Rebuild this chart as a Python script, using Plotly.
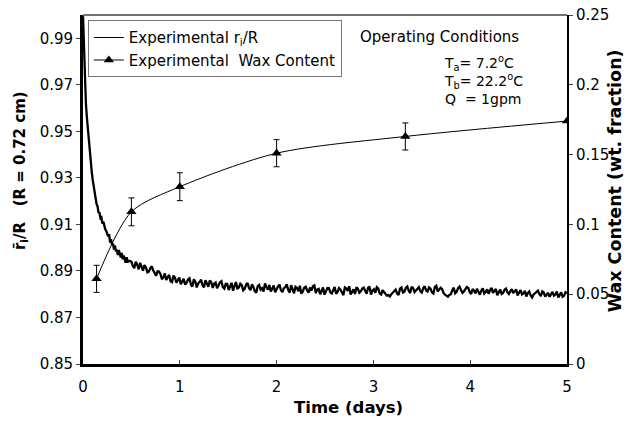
import plotly.graph_objects as go

# r_i/R experimental trace
t_early = [0.0, 0.005, 0.01, 0.015, 0.02, 0.03, 0.04, 0.05, 0.06, 0.07, 0.08, 0.09,
           0.10, 0.11, 0.12, 0.13, 0.14, 0.15, 0.16, 0.17, 0.18, 0.19, 0.20, 0.21,
           0.22, 0.23, 0.24, 0.25, 0.26, 0.27, 0.28, 0.29, 0.30, 0.31, 0.32, 0.33,
           0.34, 0.35, 0.36, 0.37, 0.38, 0.39, 0.40, 0.41, 0.42, 0.43, 0.44, 0.45,
           0.46, 0.47]
r_early = [0.9995, 0.9930, 0.9850, 0.9770, 0.9700, 0.9620, 0.9560, 0.9505, 0.9455, 0.9410,
           0.9365, 0.9328, 0.9292, 0.9262, 0.9233, 0.9212, 0.9188, 0.9178, 0.9152, 0.9150,
           0.9128, 0.9131, 0.9103, 0.9112, 0.9090, 0.9079, 0.9072, 0.9061, 0.9049, 0.9058,
           0.9022, 0.9036, 0.9013, 0.9017, 0.8992, 0.9010, 0.8984, 0.8991, 0.8968, 0.8990,
           0.8972, 0.8958, 0.8977, 0.8950, 0.8966, 0.8948, 0.8935, 0.8959, 0.8936, 0.8944]

t_late = [0.50, 0.53, 0.56, 0.59, 0.62, 0.65, 0.68, 0.71, 0.74, 0.77,
          0.80, 0.83, 0.86, 0.89, 0.92, 0.95, 0.98, 1.01, 1.04, 1.07,
          1.10, 1.13, 1.16, 1.19, 1.22, 1.25, 1.28, 1.31, 1.34, 1.37,
          1.40, 1.43, 1.46, 1.49, 1.52, 1.55, 1.58, 1.61, 1.64, 1.67,
          1.70, 1.73, 1.76, 1.79, 1.82, 1.85, 1.88, 1.91, 1.94, 1.97,
          2.00, 2.03, 2.06, 2.09, 2.12, 2.15, 2.18, 2.21, 2.24, 2.27,
          2.30, 2.33, 2.36, 2.39, 2.42, 2.45, 2.48, 2.51, 2.54, 2.57,
          2.60, 2.63, 2.66, 2.69, 2.72, 2.75, 2.78, 2.81, 2.84, 2.87,
          2.90, 2.93, 2.96, 2.99, 3.02, 3.05, 3.08, 3.11, 3.14, 3.17,
          3.20, 3.23, 3.26, 3.29, 3.32, 3.35, 3.38, 3.41, 3.44, 3.47,
          3.50, 3.53, 3.56, 3.59, 3.62, 3.65, 3.68, 3.71, 3.74, 3.77,
          3.80, 3.83, 3.86, 3.89, 3.92, 3.95, 3.98, 4.01, 4.04, 4.07,
          4.10, 4.13, 4.16, 4.19, 4.22, 4.25, 4.28, 4.31, 4.34, 4.37,
          4.40, 4.43, 4.46, 4.49, 4.52, 4.55, 4.58, 4.61, 4.64, 4.67,
          4.70, 4.73, 4.76, 4.79, 4.82, 4.85, 4.88, 4.91, 4.94, 4.97,
          5.00]
r_late = [0.8940, 0.8912, 0.8928, 0.8935, 0.8901, 0.8916, 0.8897, 0.8920, 0.8889, 0.8898,
          0.8887, 0.8872, 0.8861, 0.8883, 0.8852, 0.8871, 0.8864, 0.8843, 0.8866, 0.8849,
          0.8868, 0.8833, 0.8855, 0.8846, 0.8862, 0.8830, 0.8841, 0.8859, 0.8827, 0.8850,
          0.8837, 0.8856, 0.8824, 0.8844, 0.8833, 0.8815, 0.8852, 0.8829, 0.8839, 0.8823,
          0.8848, 0.8817, 0.8831, 0.8806, 0.8840, 0.8826, 0.8846, 0.8819, 0.8812, 0.8837,
          0.8822, 0.8841, 0.8809, 0.8830, 0.8818, 0.8839, 0.8804, 0.8827, 0.8836, 0.8811,
          0.8832, 0.8806, 0.8815, 0.8838, 0.8820, 0.8800, 0.8829, 0.8812, 0.8826, 0.8803,
          0.8831, 0.8810, 0.8819, 0.8796, 0.8825, 0.8834, 0.8808, 0.8801, 0.8823, 0.8812,
          0.8828, 0.8802, 0.8833, 0.8815, 0.8806, 0.8824, 0.8799, 0.8810, 0.8794, 0.8790,
          0.8808, 0.8820, 0.8797, 0.8829, 0.8811, 0.8833, 0.8805, 0.8826, 0.8817, 0.8830,
          0.8807, 0.8834, 0.8812, 0.8824, 0.8803, 0.8836, 0.8818, 0.8822, 0.8798, 0.8789,
          0.8800, 0.8828, 0.8810, 0.8833, 0.8806, 0.8820, 0.8827, 0.8801, 0.8815, 0.8823,
          0.8798, 0.8825, 0.8809, 0.8802, 0.8827, 0.8813, 0.8796, 0.8820, 0.8805, 0.8824,
          0.8801, 0.8822, 0.8811, 0.8795, 0.8818, 0.8803, 0.8790, 0.8812, 0.8786, 0.8804,
          0.8815, 0.8792, 0.8807, 0.8797, 0.8789, 0.8810, 0.8799, 0.8786, 0.8808, 0.8793,
          0.8805]

# additional readings between the samples above
t_mid = [0.515, 0.545, 0.575, 0.605, 0.635, 0.665, 0.695, 0.725, 0.755, 0.785,
         0.815, 0.845, 0.875, 0.905, 0.935, 0.965, 0.995, 1.025, 1.055, 1.085,
         1.115, 1.145, 1.175, 1.205, 1.235, 1.265, 1.295, 1.325, 1.355, 1.385,
         1.415, 1.445, 1.475, 1.505, 1.535, 1.565, 1.595, 1.625, 1.655, 1.685,
         1.715, 1.745, 1.775, 1.805, 1.835, 1.865, 1.895, 1.925, 1.955, 1.985,
         2.015, 2.045, 2.075, 2.105, 2.135, 2.165, 2.195, 2.225, 2.255, 2.285,
         2.315, 2.345, 2.375, 2.405, 2.435, 2.465, 2.495, 2.525, 2.555, 2.585,
         2.615, 2.645, 2.675, 2.705, 2.735, 2.765, 2.795, 2.825, 2.855, 2.885,
         2.915, 2.945, 2.975, 3.005, 3.035, 3.065, 3.095, 3.125, 3.155, 3.185,
         3.215, 3.245, 3.275, 3.305, 3.335, 3.365, 3.395, 3.425, 3.455, 3.485,
         3.515, 3.545, 3.575, 3.605, 3.635, 3.665, 3.695, 3.725, 3.755, 3.785,
         3.815, 3.845, 3.875, 3.905, 3.935, 3.965, 3.995, 4.025, 4.055, 4.085,
         4.115, 4.145, 4.175, 4.205, 4.235, 4.265, 4.295, 4.325, 4.355, 4.385,
         4.415, 4.445, 4.475, 4.505, 4.535, 4.565, 4.595, 4.625, 4.655, 4.685,
         4.715, 4.745, 4.775, 4.805, 4.835, 4.865, 4.895, 4.925, 4.955, 4.985]
r_mid = [0.8921, 0.8939, 0.8907, 0.8918, 0.8925, 0.8894, 0.8911, 0.8903, 0.8879, 0.8897,
         0.8864, 0.8889, 0.8876, 0.8856, 0.8880, 0.8849, 0.8872, 0.8858, 0.8841, 0.8863,
         0.8842, 0.8864, 0.8829, 0.8853, 0.8838, 0.8860, 0.8832, 0.8851, 0.8845, 0.8826,
         0.8851, 0.8830, 0.8845, 0.8818, 0.8849, 0.8837, 0.8825, 0.8845, 0.8817, 0.8841,
         0.8827, 0.8842, 0.8813, 0.8835, 0.8820, 0.8811, 0.8831, 0.8840, 0.8824, 0.8808,
         0.8834, 0.8817, 0.8826, 0.8843, 0.8807, 0.8823, 0.8832, 0.8813, 0.8803, 0.8828,
         0.8817, 0.8829, 0.8834, 0.8805, 0.8823, 0.8815, 0.8798, 0.8827, 0.8808, 0.8822,
         0.8802, 0.8826, 0.8807, 0.8829, 0.8814, 0.8799, 0.8821, 0.8830, 0.8806, 0.8824,
         0.8813, 0.8827, 0.8798, 0.8821, 0.8830, 0.8803, 0.8817, 0.8805, 0.8796, 0.8800,
         0.8814, 0.8803, 0.8824, 0.8807, 0.8827, 0.8815, 0.8832, 0.8809, 0.8823, 0.8812,
         0.8826, 0.8816, 0.8829, 0.8808, 0.8831, 0.8812, 0.8828, 0.8805, 0.8793, 0.8797,
         0.8817, 0.8804, 0.8826, 0.8818, 0.8812, 0.8831, 0.8809, 0.8822, 0.8804, 0.8810,
         0.8816, 0.8803, 0.8821, 0.8817, 0.8806, 0.8822, 0.8809, 0.8801, 0.8819, 0.8808,
         0.8813, 0.8805, 0.8820, 0.8809, 0.8799, 0.8815, 0.8805, 0.8795, 0.8799, 0.8811,
         0.8800, 0.8812, 0.8790, 0.8806, 0.8801, 0.8794, 0.8811, 0.8797, 0.8789, 0.8809]

# Wax content (right axis)
wax_t = [0.14, 0.5, 1.0, 2.0, 3.33, 5.0]
wax_val = [0.061, 0.109, 0.127, 0.151, 0.163, 0.174]
wax_err = [0.0097, 0.0100, 0.0100, 0.0097, 0.0097, 0.0]

left_ticks = [0.85, 0.87, 0.89, 0.91, 0.93, 0.95, 0.97, 0.99]
right_ticks = [0, 0.05, 0.1, 0.15, 0.2, 0.25]
right_labels = ["0", "0.05", "0.1", "0.15", "0.2", "0.25"]
x_ticks = [0, 1, 2, 3, 4, 5]

FONT = "DejaVu Sans, Arial, sans-serif"
NAME_R = "Experimental r<sub>i</sub>/R"
NAME_W = "Experimental  Wax Content"

# merge the readings in time order
pairs = sorted(zip(t_early + t_late + t_mid, r_early + r_late + r_mid))
t_all = [p[0] for p in pairs]
r_all = [p[1] for p in pairs]

fig = go.Figure()
fig.add_trace(go.Scatter(
    x=t_all, y=r_all, mode="lines",
    line=dict(color="black", width=2.3),
    name=NAME_R, showlegend=False, yaxis="y"))
# thin legend sample for the r_i/R trace
fig.add_trace(go.Scatter(
    x=[None], y=[None], mode="lines", line=dict(color="black", width=1),
    name=NAME_R, yaxis="y"))
fig.add_trace(go.Scatter(
    x=wax_t, y=wax_val, mode="lines+markers",
    line=dict(color="black", width=1, shape="spline", smoothing=0.8),
    marker=dict(symbol="triangle-up", size=9, color="black"),
    error_y=dict(type="data", array=wax_err, visible=True, color="black",
                 thickness=1, width=3),
    name=NAME_W, yaxis="y2"))

fig.update_layout(
    width=632, height=422,
    margin=dict(l=83, r=65, t=15, b=58, autoexpand=False),
    paper_bgcolor="white", plot_bgcolor="white",
    font=dict(family=FONT, size=15, color="black"),
    showlegend=True,
    legend=dict(x=0.01, y=0.985, xanchor="left", yanchor="top",
                bgcolor="white", bordercolor="#777", borderwidth=1,
                font=dict(size=15), tracegroupgap=0),
    xaxis=dict(range=[0, 5], tickvals=x_ticks, ticks="inside", ticklen=4,
               ticklabelstandoff=7, automargin=False,
               showline=True, linecolor="black", linewidth=2.5, showgrid=False,
               zeroline=False),
    yaxis=dict(range=[0.85, 1.0], tickvals=left_ticks, tickformat=".2f",
               ticks="outside", ticklen=4, showline=True, linecolor="black",
               linewidth=2.8, showgrid=False, zeroline=False, automargin=False),
    yaxis2=dict(range=[0, 0.25], tickvals=right_ticks, ticktext=right_labels,
                overlaying="y", side="right", ticks="outside", ticklen=4,
                showline=True, linecolor="black", linewidth=2, showgrid=False,
                zeroline=False, automargin=False),
    shapes=[dict(type="line", xref="paper", yref="paper", x0=0, x1=1, y0=1, y1=1,
                 line=dict(color="#444", width=1.5))],
)

# axis titles
fig.add_annotation(x=0.548, y=-0.126, xref="paper", yref="paper", showarrow=False,
                   xanchor="center", yanchor="middle",
                   text="<b>Time (days)</b>", font=dict(size=16.5))
fig.add_annotation(x=-0.130, y=0.553, xref="paper", yref="paper", textangle=-90,
                   showarrow=False, xanchor="center", yanchor="middle",
                   text="<b>r\u0304<sub>i</sub>/R   (R = 0.72 cm)</b>",
                   font=dict(size=15))
fig.add_annotation(x=1.0995, y=0.524, xref="paper", yref="paper", textangle=-90,
                   showarrow=False, xanchor="center", yanchor="middle",
                   text="<b>Wax Content (wt. fraction)</b>",
                   font=dict(size=17.5))

# operating conditions
fig.add_annotation(x=0.568, y=0.968, xref="paper", yref="paper", xanchor="left",
                   yanchor="top", showarrow=False, text="Operating Conditions",
                   font=dict(size=15))
fig.add_annotation(x=0.742, y=0.897, xref="paper", yref="paper", xanchor="left",
                   yanchor="top", showarrow=False, align="left",
                   text="T<sub>a</sub>= 7.2<sup>o</sup>C<br>T<sub>b</sub>= 22.2<sup>o</sup>C<br>Q  = 1gpm",
                   font=dict(size=14))

fig.write_html("out.html")
